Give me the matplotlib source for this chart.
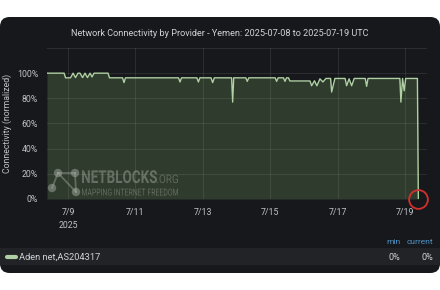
"""
Recreate the NetBlocks / Grafana-style connectivity panel for Aden net (Yemen).
"""

import matplotlib
matplotlib.use("Agg")
import matplotlib.pyplot as plt
import pandas as pd
from matplotlib.font_manager import FontProperties
from matplotlib.patches import FancyBboxPatch, Rectangle, PathPatch, Circle
from matplotlib.textpath import TextPath
from matplotlib.transforms import Affine2D
from matplotlib.lines import Line2D

# ---------------------------------------------------------------------------
# Data
# ---------------------------------------------------------------------------
TITLE = "Network Connectivity by Provider - Yemen: 2025-07-08 to 2025-07-19 UTC"
SERIES_NAME = "Aden net,AS204317"

times = [
    "2025-07-08 09:00", "2025-07-08 21:10", "2025-07-08 22:15", "2025-07-09 01:45",
    "2025-07-09 03:35", "2025-07-09 05:20", "2025-07-09 07:05", "2025-07-09 08:30",
    "2025-07-09 10:20", "2025-07-09 12:05", "2025-07-09 13:50", "2025-07-09 15:40",
    "2025-07-09 17:05", "2025-07-09 18:30", "2025-07-10 04:30", "2025-07-10 05:30",
    "2025-07-10 14:50", "2025-07-10 15:50", "2025-07-10 16:55", "2025-07-12 06:40",
    "2025-07-12 07:45", "2025-07-12 08:50", "2025-07-12 19:45", "2025-07-12 20:50",
    "2025-07-12 21:55", "2025-07-13 05:50", "2025-07-13 07:00", "2025-07-13 08:10",
    "2025-07-13 20:30", "2025-07-13 21:15", "2025-07-13 22:00", "2025-07-14 06:35",
    "2025-07-14 07:40", "2025-07-14 08:45", "2025-07-15 03:30", "2025-07-15 04:35",
    "2025-07-15 05:40", "2025-07-15 09:25", "2025-07-15 10:30", "2025-07-15 11:35",
    "2025-07-15 13:00", "2025-07-15 14:00", "2025-07-16 04:20", "2025-07-16 05:30",
    "2025-07-16 07:30", "2025-07-16 09:15", "2025-07-16 11:25", "2025-07-16 13:35",
    "2025-07-16 15:40", "2025-07-16 19:00", "2025-07-16 19:45", "2025-07-16 22:05",
    "2025-07-17 05:20", "2025-07-17 06:25", "2025-07-17 08:10", "2025-07-17 10:00",
    "2025-07-17 11:50", "2025-07-17 19:40", "2025-07-17 20:40", "2025-07-17 21:40",
    "2025-07-18 20:20", "2025-07-18 21:05", "2025-07-18 22:15", "2025-07-18 23:25",
    "2025-07-19 00:30", "2025-07-19 08:50", "2025-07-19 09:30",
]
connectivity = [
    100, 100, 96.3, 96.3,
    100, 96.5, 100, 100,
    96.5, 100, 96.5, 100,
    97, 100, 100, 96.3,
    96.3, 92.5, 96.3, 96.3,
    93, 96.3, 96.3, 93,
    96.3, 96.3, 92.5, 96.3,
    96.3, 77, 96.3, 96.3,
    93.5, 96.3, 96.3, 93.5,
    96.3, 96.3, 93.5, 96.3,
    96.3, 93.8, 93.8, 90,
    94, 90, 95.5, 93,
    95.8, 95.8, 85, 95.8,
    95.8, 90, 95.5, 90,
    95.8, 95.8, 89.5, 95.8,
    95.8, 77, 95.8, 86,
    95.8, 95.8, 0,
]

x_range = ("2025-07-08 09:00", "2025-07-19 15:40")
tick_days = ["2025-07-09", "2025-07-11", "2025-07-13", "2025-07-15", "2025-07-17", "2025-07-19"]
tick_labels = ["7/9\n2025", "7/11", "7/13", "7/15", "7/17", "7/19"]
y_ticks = [0, 20, 40, 60, 80, 100, 120]
y_labels = ["0%", "20%", "40%", "60%", "80%", "100%", ""]

legend_min = "0%"
legend_current = "0%"

# ---------------------------------------------------------------------------
# Styling
# ---------------------------------------------------------------------------
W, H, DPI = 440, 290, 100
PANEL = "#17181c"
LEGEND_ROW = "#212327"
FILL = "#2f3b2d"
LINE = "#afd0a2"
TEXT = "#d0d2d5"
TICK = "#bfc2c6"
BLUE = "#4f94c8"
FONT = "Roboto"

plt.rcParams["font.family"] = [FONT, "DejaVu Sans"]

t = pd.to_datetime(times)
v = [c / 100 for c in connectivity]

fig = plt.figure(figsize=(W / DPI, H / DPI), dpi=DPI, facecolor="white")

# dark rounded panel (kept below the axes)
panel = FancyBboxPatch((0, 17 / H), 1, 256 / H, transform=fig.transFigure,
                       boxstyle="round,pad=0,rounding_size=0.022",
                       mutation_aspect=W / H, facecolor=PANEL, edgecolor="none",
                       zorder=-3)
fig.patches.append(panel)
fig.patches.append(Rectangle((0, 25 / H), 1, 17 / H, transform=fig.transFigure,
                             facecolor=LEGEND_ROW, edgecolor="none", zorder=-2))

ax = fig.add_axes([47 / W, 91 / H, 380 / W, 151 / H])
ax.set_facecolor("none")
ax.fill_between(t, 0, v, color=FILL, linewidth=0, zorder=1)
ax.plot(t, v, color=LINE, linewidth=1.0, zorder=3)
ax.plot(t[-1:], v[-1:], marker="o", markersize=13.5, markerfacecolor="none",
        markeredgecolor="#d3302c", markeredgewidth=1.3, linestyle="none",
        clip_on=False, zorder=4)

ax.set_xlim(pd.to_datetime(x_range[0]), pd.to_datetime(x_range[1]))
ax.set_ylim(0, 1.2)
ax.set_xticks(pd.to_datetime(tick_days))
ax.set_xticklabels(tick_labels)
ax.set_yticks([y / 100 for y in y_ticks])
ax.set_yticklabels(y_labels)
ax.tick_params(length=0, labelsize=6.3, colors=TICK)
ax.tick_params(axis="x", pad=6.5)
ax.tick_params(axis="y", pad=6.5)
for lbl in ax.get_xticklabels():
    lbl.set_linespacing(1.6)
for s in ax.spines.values():
    s.set_visible(False)
ax.set_axisbelow(False)
ax.grid(True, color="white", alpha=0.09, linewidth=0.8, zorder=2)

fig.text(220 / W, (H - 33) / H, TITLE, ha="center", va="center",
         fontsize=6.6, color=TEXT)
fig.text(7 / W, (H - 123) / H, "Connectivity (normalized)", rotation=90,
         ha="center", va="center", fontsize=6.3, color=TICK)

# ---------------------------------------------------------------------------
# Watermark
# ---------------------------------------------------------------------------
WM = "#a9afa5"


def fitted_text(s, x0, width, baseline, cap, weight="bold", alpha=0.45):
    tp = TextPath((0, 0), s, size=1, prop=FontProperties(family=FONT, weight=weight))
    ext = tp.get_extents()
    sx = width / ext.width
    sy = cap / ext.height
    tr = Affine2D().translate(-ext.x0, 0).scale(sx, sy).translate(x0, H - baseline)
    fig.add_artist(PathPatch(tp, transform=tr, facecolor=WM, edgecolor="none",
                             alpha=alpha, zorder=5))


fitted_text("NETBLOCKS", 82, 75, 183, 13)
fitted_text(".ORG", 157, 21, 183, 8.5, weight="normal", alpha=0.38)
fitted_text("MAPPING INTERNET FREEDOM", 82, 96, 195.5, 7, weight="normal", alpha=0.42)

nodes = {"tl": (58, 173), "tr": (75, 173), "bl": (52, 188), "br": (76, 192)}
for a, b in [("tl", "bl"), ("tl", "br"), ("tr", "br"), ("tl", "tr")]:
    (x1, y1), (x2, y2) = nodes[a], nodes[b]
    fig.add_artist(Line2D([x1 / W, x2 / W], [(H - y1) / H, (H - y2) / H],
                          transform=fig.transFigure, color=WM, alpha=0.42,
                          linewidth=1.3, zorder=5))
for (x, y) in nodes.values():
    fig.add_artist(Circle((x, H - y), 4.2, transform=Affine2D(), facecolor=WM,
                          edgecolor="none", alpha=0.48, zorder=5))

# ---------------------------------------------------------------------------
# Legend row
# ---------------------------------------------------------------------------
fig.add_artist(Line2D([7 / W, 16 / W], [(H - 257) / H] * 2, transform=fig.transFigure,
                      color=LINE, linewidth=3, solid_capstyle="round"))
fig.text(19 / W, (H - 257) / H, SERIES_NAME, ha="left", va="center",
         fontsize=6.7, color=TEXT)
fig.text(393 / W, (H - 242) / H, "min", ha="center", va="center",
         fontsize=6, color=BLUE)
fig.text(433 / W, (H - 242) / H, "current", ha="right", va="center",
         fontsize=6, color=BLUE)
fig.text(400 / W, (H - 257) / H, legend_min, ha="right", va="center",
         fontsize=6.5, color=TEXT)
fig.text(433 / W, (H - 257) / H, legend_current, ha="right", va="center",
         fontsize=6.5, color=TEXT)

fig.savefig("out.png", dpi=DPI, facecolor="white")
